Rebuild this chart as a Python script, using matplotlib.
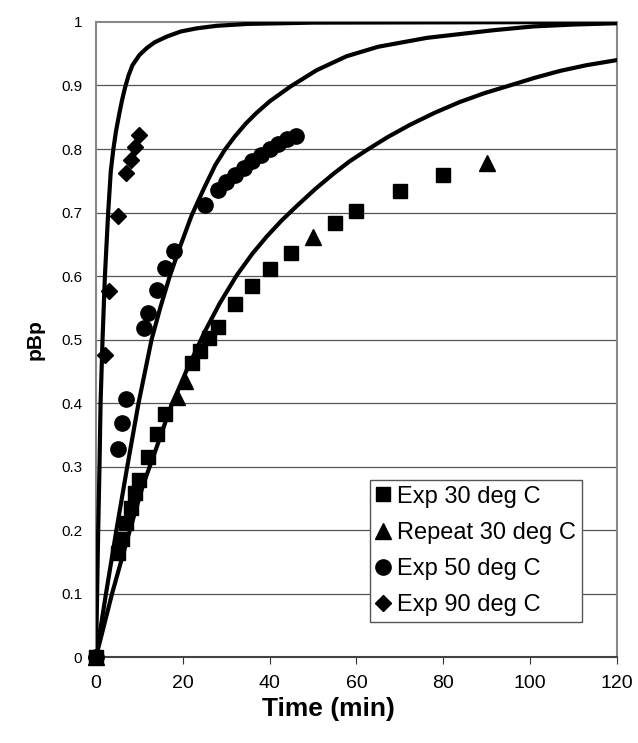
import matplotlib
matplotlib.use("Agg")
import matplotlib.pyplot as plt
from matplotlib.lines import Line2D

plt.rcParams['font.family'] = ['Liberation Sans', 'DejaVu Sans']

# ---- experimental data ----
exp30_t = [0, 5, 6, 7, 8, 9, 10, 12, 14, 16, 22, 24, 26, 28, 32, 36, 40, 45, 55, 60, 70, 80]
exp30_v = [0, 0.164, 0.186, 0.211, 0.235, 0.258, 0.279, 0.315, 0.352, 0.383, 0.463, 0.482,
           0.502, 0.52, 0.556, 0.585, 0.611, 0.637, 0.683, 0.702, 0.734, 0.759]

rep30_t = [0, 18.6, 20.5, 50, 90]
rep30_v = [0, 0.41, 0.434, 0.662, 0.778]

exp50_t = [0, 5, 6, 7, 11, 12, 14, 16, 18, 25, 28, 30, 32, 34, 36, 38, 40, 42, 44, 46]
exp50_v = [0, 0.327, 0.369, 0.407, 0.518, 0.541, 0.578, 0.612, 0.64, 0.712, 0.735, 0.748,
           0.759, 0.77, 0.781, 0.791, 0.8, 0.808, 0.815, 0.821]

exp90_t = [0, 2, 3, 5, 7, 8, 9, 10]
exp90_v = [0, 0.475, 0.577, 0.694, 0.762, 0.783, 0.803, 0.822]

# ---- model curves ----
fit90_t = [0, 0.25, 0.5, 0.8, 1.05, 1.5, 2.05, 2.8, 3.4, 4.0, 4.6, 5.4, 6.0, 6.7, 7.5, 8.4,
           10, 11.7, 13.5, 16.3, 19.5, 23.2, 27.8, 35, 50, 120]
fit90_v = [0, 0.1, 0.2, 0.3, 0.4, 0.5, 0.6, 0.7, 0.765, 0.8, 0.828, 0.857, 0.877, 0.897,
           0.916, 0.932, 0.948, 0.959, 0.968, 0.977, 0.985, 0.99, 0.994, 0.997, 0.999, 1.0]

fit50_t = [0, 2.3, 4.7, 7.2, 9.8, 12.8, 14.8, 17, 19.3, 22, 25, 27.5, 29.7, 32, 34.5, 37,
           40, 44.7, 50.8, 57.7, 65, 76.2, 91.5, 100.7, 110, 120]
fit50_v = [0, 0.1, 0.2, 0.3, 0.4, 0.5, 0.55, 0.6, 0.645, 0.695, 0.74, 0.775, 0.799, 0.82,
           0.84, 0.857, 0.875, 0.898, 0.924, 0.946, 0.961, 0.975, 0.987, 0.993, 0.996, 0.998]

fit30_t = [0, 3.7, 7.8, 10.8, 14, 17, 20.9, 25.1, 28.5, 32.4, 36, 39.3, 42.7, 46.2, 50.5,
           54.7, 58.5, 62.3, 67, 72.3, 78, 83.8, 89.5, 95.3, 101, 106.9, 113, 120]
fit30_v = [0, 0.1, 0.2, 0.27, 0.331, 0.39, 0.452, 0.513, 0.557, 0.601, 0.635, 0.662, 0.687,
           0.71, 0.737, 0.761, 0.781, 0.798, 0.818, 0.838, 0.857, 0.874, 0.888, 0.9, 0.912,
           0.923, 0.932, 0.94]

x_ticks = [0, 20, 40, 60, 80, 100, 120]
y_ticks = [0, 0.1, 0.2, 0.3, 0.4, 0.5, 0.6, 0.7, 0.8, 0.9, 1]
y_tick_labels = ['0', '0.1', '0.2', '0.3', '0.4', '0.5', '0.6', '0.7', '0.8', '0.9', '1']

fig = plt.figure(figsize=(6.38, 7.43), dpi=100)
ax = fig.add_axes([0.1505, 0.1157, 0.8165, 0.8547])

for yv in y_ticks[1:-1]:
    ax.axhline(yv, color='#555555', lw=0.9, zorder=1)

for tt, vv in [(fit90_t, fit90_v), (fit50_t, fit50_v), (fit30_t, fit30_v)]:
    ax.plot(tt, vv, color='black', lw=3.0, solid_capstyle='round',
            solid_joinstyle='round', zorder=3)

ax.plot(exp30_t, exp30_v, ls='none', marker='s', ms=10, color='black', zorder=4, clip_on=False)
ax.plot(rep30_t, rep30_v, ls='none', marker='^', ms=11, color='black', zorder=4, clip_on=False)
ax.plot(exp50_t, exp50_v, ls='none', marker='o', ms=11, color='black', zorder=4, clip_on=False)
ax.plot(exp90_t, exp90_v, ls='none', marker='D', ms=8, color='black', zorder=4, clip_on=False)

ax.set_xlim(0, 120)
ax.set_ylim(0, 1)
ax.set_xticks(x_ticks)
ax.set_yticks(y_ticks)
ax.set_yticklabels(y_tick_labels)
ax.tick_params(axis='x', labelsize=14, length=5, direction='out', color='#333333', pad=8)
ax.tick_params(axis='y', labelsize=11, length=0, pad=10)

for s in ax.spines.values():
    s.set_color('#888888')
    s.set_linewidth(1.5)
ax.spines['bottom'].set_color('#444444')

fig.text(328 / 638, 1 - 709 / 743, 'Time (min)', fontsize=19, fontweight='bold',
         ha='center', va='center')
ax.set_ylabel('pBp', fontsize=15, fontweight='bold', labelpad=12)

handles = [
    Line2D([], [], ls='none', marker='s', ms=10, color='black'),
    Line2D([], [], ls='none', marker='^', ms=11, color='black'),
    Line2D([], [], ls='none', marker='o', ms=11, color='black'),
    Line2D([], [], ls='none', marker='D', ms=8, color='black'),
]
labels = ['Exp 30 deg C', 'Repeat 30 deg C', 'Exp 50 deg C', 'Exp 90 deg C']
leg = ax.legend(handles, labels, loc='lower left', bbox_to_anchor=(0.526, 0.055),
                fontsize=17, frameon=True, fancybox=False, framealpha=1,
                edgecolor='#555555', handlelength=0.6, handletextpad=0.3,
                labelspacing=0.6, borderpad=0.25, borderaxespad=0)
leg.get_frame().set_linewidth(1.0)
leg.set_zorder(5)

fig.savefig('out.png', dpi=100)
